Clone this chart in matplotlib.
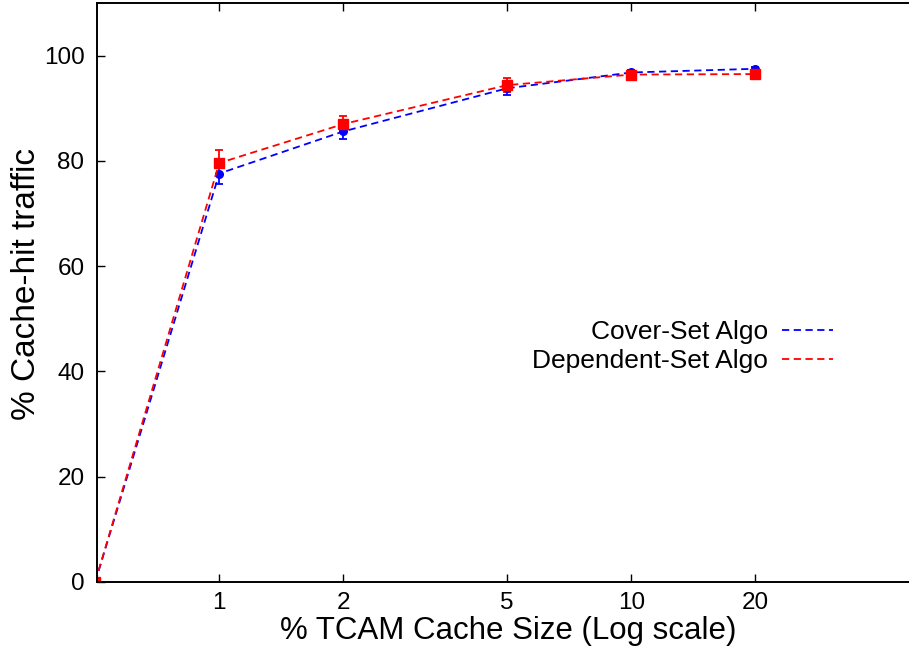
import numpy as np
import matplotlib.pyplot as plt
from matplotlib.lines import Line2D

plt.rcParams['font.family'] = ['Liberation Sans', 'DejaVu Sans']

cache_size = [0.5, 1, 2, 5, 10, 20]

cover_hit = [0, 77.6, 85.6, 93.8, 96.8, 97.5]
cover_err = [0, 2.0, 1.5, 1.3, 0.4, 0.3]

dep_hit = [0, 79.6, 87.0, 94.4, 96.4, 96.5]
dep_err = [0, 2.4, 1.5, 1.3, 0.4, 0.3]

xtick_vals = [1, 2, 5, 10, 20]

fig = plt.figure(figsize=(9.09, 6.47), dpi=100)
axes = fig.add_axes([97/909, 65/647, 1 - 97/909 + 0.002, 579/647])

axes.errorbar(cache_size, cover_hit, yerr=cover_err, color='#0000ff',
              linestyle=(0, (4, 2.5)), linewidth=1.3, marker='o', markersize=5.5,
              capsize=2.6, elinewidth=1.3, capthick=1.3)
axes.errorbar(cache_size, dep_hit, yerr=dep_err, color='#ff0000',
              linestyle=(0, (4, 2.5)), linewidth=1.3, marker='s', markersize=6.5,
              capsize=2.6, elinewidth=1.3, capthick=1.3)

axes.set_xscale('log')
axes.set_xlim(0.505, 47.7)
axes.set_ylim(0, 110)
axes.set_xticks(xtick_vals)
axes.set_xticklabels([str(v) for v in xtick_vals])
axes.xaxis.set_minor_locator(plt.NullLocator())
axes.set_yticks([0, 20, 40, 60, 80, 100])
axes.tick_params(direction='in', length=6, width=1.0, labelsize=17.5, top=True)
axes.tick_params(axis='x', pad=7)
axes.tick_params(axis='y', pad=9)
axes.spines['right'].set_visible(False)
for s in ['left', 'top', 'bottom']:
    axes.spines[s].set_linewidth(1.4)

axes.set_xlabel('% TCAM Cache Size (Log scale)', fontsize=22.5)
axes.set_ylabel('% Cache-hit traffic', fontsize=24)
axes.xaxis.set_label_coords(0.505, -0.058)
axes.yaxis.set_label_coords(-0.068, 0.515)

handles = [Line2D([], [], color='#0000ff', linestyle=(0, (4, 2.5)), linewidth=1.3),
           Line2D([], [], color='#ff0000', linestyle=(0, (4, 2.5)), linewidth=1.3)]
fig.legend(handles, ['Cover-Set Algo', 'Dependent-Set Algo'], loc='upper right',
           bbox_to_anchor=(833/909, 1 - 320/647), bbox_transform=fig.transFigure,
           frameon=False, markerfirst=False, fontsize=19, handlelength=1.95,
           handletextpad=0.5, borderpad=0, borderaxespad=0, labelspacing=0.2)

fig.savefig('out.png', dpi=100)
